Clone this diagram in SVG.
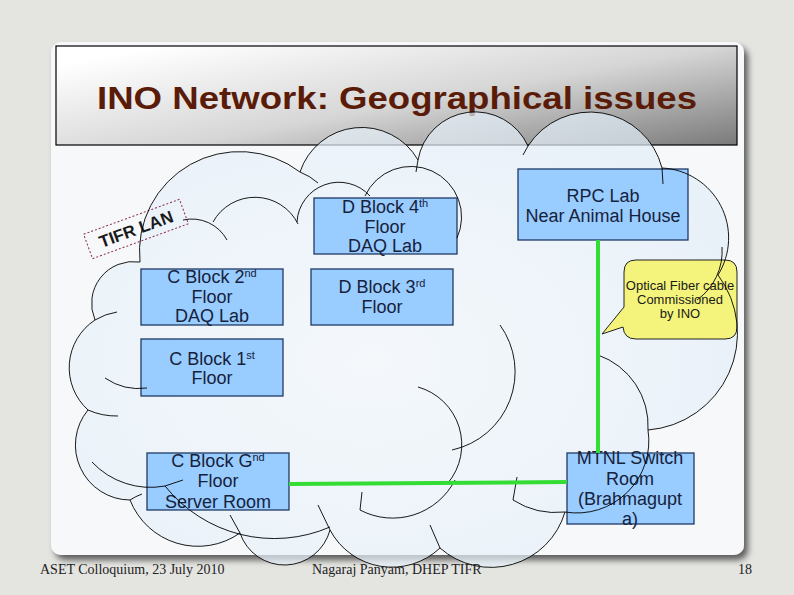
<svg xmlns="http://www.w3.org/2000/svg" width="794" height="595" viewBox="0 0 794 595">
<defs>
  <linearGradient id="titleGrad" x1="0" y1="0.2" x2="1" y2="1">
    <stop offset="0" stop-color="#ffffff"/>
    <stop offset="0.5" stop-color="#d6d6d6"/>
    <stop offset="1" stop-color="#7a7a7a"/>
  </linearGradient>
  <radialGradient id="cloudGrad" cx="0.45" cy="0.55" r="0.7">
    <stop offset="0" stop-color="#f3f8fc"/>
    <stop offset="1" stop-color="#e0ecf7"/>
  </radialGradient>
  <path id="cloudShape" d="M 140 262 A 100 100 0 0 1 300 172 A 65 65 0 0 1 418 160 A 58 58 0 0 1 528 146 A 74 74 0 0 1 662 168 A 70 70 0 0 1 718 275 A 97 97 0 0 1 648 430 A 72 72 0 0 1 565 512 A 77 77 0 0 1 440 548 A 70 70 0 0 1 330 530 A 47 47 0 0 1 240 533 A 73 73 0 0 1 130 500 A 55 55 0 0 1 88 410 A 57 57 0 0 1 95 320 A 42 42 0 0 1 140 262 Z"/>
  <filter id="shadow" x="-5%" y="-5%" width="115%" height="115%">
    <feGaussianBlur in="SourceAlpha" stdDeviation="3"/>
    <feOffset dx="4" dy="5" result="b"/>
    <feFlood flood-color="#000" flood-opacity="0.6"/>
    <feComposite in2="b" operator="in"/>
    <feMerge><feMergeNode/><feMergeNode in="SourceGraphic"/></feMerge>
  </filter>
  <style>
    .box { fill: #99ccff; stroke: #1f3a66; stroke-width: 1.3; }
    .bt { font-family: "Liberation Sans", Arial, sans-serif; font-size: 18px; fill: #16223c; text-anchor: middle; }
    .sup { font-size: 11px; }
    .cloudline { fill: none; stroke: #000; stroke-width: 0.9; }
    .fiber { fill: none; stroke: #33dd33; stroke-width: 4; stroke-linecap: butt; }
    .foot { font-family: "Liberation Serif", "Times New Roman", serif; font-size: 14px; fill: #222; }
    .call { font-family: "Liberation Sans", Arial, sans-serif; font-size: 13px; fill: #1a1a1a; text-anchor: middle; }
  </style>
</defs>

<rect x="0" y="0" width="794" height="595" fill="#e4e4e1"/>

<!-- slide panel -->
<rect x="51" y="42" width="693" height="513" rx="10" fill="#f7f8fa" filter="url(#shadow)"/>

<!-- title -->
<g id="title">
  <rect x="56" y="46" width="681" height="99" fill="url(#titleGrad)" stroke="#000" stroke-width="1.2"/>
  <text x="397" y="109" font-family="Liberation Sans, Arial, sans-serif" font-weight="bold" font-size="31" fill="#5a1c08" text-anchor="middle" textLength="600" lengthAdjust="spacingAndGlyphs">INO Network: Geographical issues</text>
</g>

<!-- cloud fill -->
<g id="cloud">
  <use href="#cloudShape" fill="url(#cloudGrad)" fill-opacity="0.7" stroke="none"/>
</g>

<!-- nodes -->
<g id="tifr-lan" transform="translate(136,229) rotate(-20)">
  <rect x="-51" y="-13" width="102" height="26" fill="none" stroke="#8b2a4a" stroke-width="1" stroke-dasharray="2,2"/>
  <text x="0" y="6" font-family="Liberation Sans, Arial, sans-serif" font-weight="bold" font-size="17" fill="#1a1a1a" text-anchor="middle">TIFR LAN</text>
</g>

<g id="d-block-4">
  <rect class="box" x="314" y="198" width="143" height="56"/>
  <text class="bt" x="385" y="213">D Block 4<tspan class="sup" dy="-6">th</tspan></text>
  <text class="bt" x="385" y="233">Floor</text>
  <text class="bt" x="385" y="252">DAQ Lab</text>
</g>

<g id="c-block-2">
  <rect class="box" x="141" y="269" width="142" height="56"/>
  <text class="bt" x="212" y="283">C Block 2<tspan class="sup" dy="-6">nd</tspan></text>
  <text class="bt" x="212" y="303">Floor</text>
  <text class="bt" x="212" y="322">DAQ Lab</text>
</g>

<g id="d-block-3">
  <rect class="box" x="311" y="269" width="142" height="56"/>
  <text class="bt" x="382" y="293">D Block 3<tspan class="sup" dy="-6">rd</tspan></text>
  <text class="bt" x="382" y="313">Floor</text>
</g>

<g id="c-block-1">
  <rect class="box" x="141" y="339" width="142" height="57"/>
  <text class="bt" x="212" y="365">C Block 1<tspan class="sup" dy="-6">st</tspan></text>
  <text class="bt" x="212" y="384">Floor</text>
</g>

<g id="c-block-g">
  <rect class="box" x="147" y="453" width="142" height="57"/>
  <text class="bt" x="218" y="467">C Block G<tspan class="sup" dy="-6">nd</tspan></text>
  <text class="bt" x="218" y="487">Floor</text>
  <text class="bt" x="218" y="508">Server Room</text>
</g>

<g id="rpc-lab">
  <rect class="box" x="518" y="169" width="170" height="71"/>
  <text class="bt" x="603" y="202">RPC Lab</text>
  <text class="bt" x="603" y="222">Near Animal House</text>
</g>

<g id="mtnl">
  <rect class="box" x="567" y="453" width="127" height="71"/>
  <text class="bt" x="630" y="464">MTNL Switch</text>
  <text class="bt" x="630" y="485">Room</text>
  <text class="bt" x="630" y="505">(Brahmagupt</text>
  <text class="bt" x="630" y="525">a)</text>
</g>

<g id="callout">
  <path d="M 636 260 H 725 Q 737 260 737 272 V 327 Q 737 339 725 339 H 636 Q 624 339 623 327 L 602 334 L 624 307 V 272 Q 624 260 636 260 Z" fill="#f4f47c" stroke="#222" stroke-width="1"/>
  <text class="call" x="680" y="290">Optical Fiber cable</text>
  <text class="call" x="680" y="304">Commissioned</text>
  <text class="call" x="680" y="318">by INO</text>
</g>

<!-- cloud outlines (drawn over nodes) -->
<g id="cloud-outline">
  <use href="#cloudShape" fill="none" stroke="#000" stroke-width="0.9"/>
  <path class="cloudline" d="M 213 222 A 48 48 0 0 1 298 224"/>
  <path class="cloudline" d="M 297 222 A 42 42 0 0 1 370 196"/>
  <path class="cloudline" d="M 365 196 A 50 50 0 0 1 457 238"/>
  <path class="cloudline" d="M 183 220 A 40 40 0 0 1 227 240"/>
  <path class="cloudline" d="M 300 172 A 60 60 0 0 1 318 183"/>
  <path class="cloudline" d="M 418 160 L 416 172"/>
  <path class="cloudline" d="M 528 146 L 523 155"/>
  <path class="cloudline" d="M 662 168 L 663 184"/>
  <path class="cloudline" d="M 95 320 A 60 60 0 0 1 117 312"/>
  <path class="cloudline" d="M 88 410 A 70 70 0 0 0 118 416"/>
  <path class="cloudline" d="M 105 378 A 60 60 0 0 0 147 388"/>
  <path class="cloudline" d="M 130 500 A 60 60 0 0 1 142 494"/>
  <path class="cloudline" d="M 92 462 A 80 80 0 0 0 165 486 L 183 480"/>
  <path class="cloudline" d="M 165 486 A 140 140 0 0 0 330 527"/>
  <path class="cloudline" d="M 240 533 L 230 515"/>
  <path class="cloudline" d="M 330 530 L 318 505"/>
  <path class="cloudline" d="M 360 510 A 70 70 0 0 0 455 480"/>
  <path class="cloudline" d="M 362 492 L 360 510"/>
  <path class="cloudline" d="M 418 387 A 60 60 0 0 1 448 483"/>
  <path class="cloudline" d="M 500 325 A 80 80 0 0 1 452 450"/>
  <path class="cloudline" d="M 517 477 L 513 500 A 80 80 0 0 0 565 512"/>
  <path class="cloudline" d="M 598 355 A 75 75 0 0 1 648 430"/>
  <path class="cloudline" d="M 722 247 A 60 60 0 0 1 697 300"/>
  <path class="cloudline" d="M 440 548 L 430 525"/>
</g>

<!-- connectors -->
<g id="connectors">
  <path class="fiber" d="M 598 240 V 453"/>
  <path class="fiber" d="M 289 484 L 567 482"/>
</g>

<!-- footer -->
<g id="footer">
  <text class="foot" x="40" y="574">ASET Colloquium, 23 July 2010</text>
  <text class="foot" x="312" y="574">Nagaraj Panyam, DHEP TIFR</text>
  <text class="foot" x="752" y="574" text-anchor="end">18</text>
</g>
</svg>
